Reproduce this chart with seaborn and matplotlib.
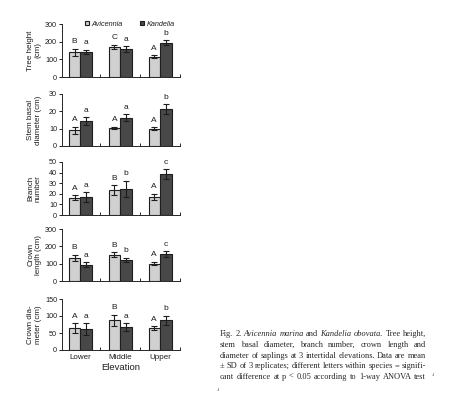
import matplotlib
matplotlib.use("Agg")
import matplotlib.pyplot as plt
import seaborn as sns
import pandas as pd
import numpy as np

# ---------------- data ----------------
elevations = ["Lower", "Middle", "Upper"]
species = ["Avicennia", "Kandelia"]

tree_height_avi = [139, 171, 116]
tree_height_avi_sd = [22, 12, 7]
tree_height_kan = [142, 158, 195]
tree_height_kan_sd = [12, 17, 13]
tree_height_letters_avi = ["B", "C", "A"]
tree_height_letters_kan = ["a", "a", "b"]

stem_avi = [9.0, 10.6, 10.0]
stem_avi_sd = [2.0, 0.6, 0.7]
stem_kan = [14.3, 16.2, 21.3]
stem_kan_sd = [2.3, 2.0, 2.8]
stem_letters_avi = ["A", "A", "A"]
stem_letters_kan = ["a", "a", "b"]

branch_avi = [16.5, 23.5, 17.0]
branch_avi_sd = [2.0, 4.5, 3.0]
branch_kan = [17.0, 24.5, 38.8]
branch_kan_sd = [4.5, 7.8, 4.5]
branch_letters_avi = ["A", "B", "A"]
branch_letters_kan = ["a", "b", "c"]

crown_len_avi = [134, 151, 100]
crown_len_avi_sd = [17, 15, 10]
crown_len_kan = [95, 121, 156]
crown_len_kan_sd = [14, 13, 15]
crown_len_letters_avi = ["B", "B", "A"]
crown_len_letters_kan = ["a", "b", "c"]

crown_dia_avi = [64, 87, 64]
crown_dia_avi_sd = [15, 17, 6]
crown_dia_kan = [61, 67, 88]
crown_dia_kan_sd = [18, 12, 13]
crown_dia_letters_avi = ["A", "B", "A"]
crown_dia_letters_kan = ["a", "a", "b"]

panel_labels = ["Tree height\n(cm)", "Stem basal\ndiameter (cm)", "Branch\nnumber",
                "Crown\nlength (cm)", "Crown dia-\nmeter (cm)"]
panel_yticks = [[0, 100, 200, 300], [0, 10, 20, 30], [0, 10, 20, 30, 40, 50],
                [0, 100, 200, 300], [0, 50, 100, 150]]

panels = [
    (tree_height_avi, tree_height_avi_sd, tree_height_kan, tree_height_kan_sd,
     tree_height_letters_avi, tree_height_letters_kan),
    (stem_avi, stem_avi_sd, stem_kan, stem_kan_sd, stem_letters_avi, stem_letters_kan),
    (branch_avi, branch_avi_sd, branch_kan, branch_kan_sd, branch_letters_avi, branch_letters_kan),
    (crown_len_avi, crown_len_avi_sd, crown_len_kan, crown_len_kan_sd,
     crown_len_letters_avi, crown_len_letters_kan),
    (crown_dia_avi, crown_dia_avi_sd, crown_dia_kan, crown_dia_kan_sd,
     crown_dia_letters_avi, crown_dia_letters_kan),
]

caption_lines = [
    [("Fig.", "normal"), ("2.", "normal"), ("Avicennia", "italic"), ("marina", "italic"),
     ("and", "normal"), ("Kandelia", "italic"), ("obovata.", "italic"), ("Tree", "normal"),
     ("height,", "normal")],
    [(w, "normal") for w in "stem basal diameter, branch number, crown length and".split()],
    [(w, "normal") for w in "diameter of saplings at 3 intertidal elevations. Data are mean".split()],
    [(w, "normal") for w in "± SD of 3 replicates; different letters within species = signifi-".split()],
    [(w, "normal") for w in "cant difference at p < 0.05 according to 1-way ANOVA test".split()],
]

# ---------------- style ----------------
sns.set_theme(style="ticks")
plt.rcParams["font.family"] = ["Liberation Sans Narrow", "Liberation Sans", "DejaVu Sans"]
plt.rcParams["axes.linewidth"] = 0.7

colors = {"Avicennia": "#d0d0d0", "Kandelia": "#484848"}
ink = "#1e1e1e"

W, H = 460, 395
fig = plt.figure(figsize=(W / 100, H / 100), dpi=100)

# axes boxes in pixels (top, bottom)
boxes = [(24, 77), (94, 146), (162, 215), (229, 281), (299, 350)]
left_px, right_px = 62, 180

for i, (box, data, ylab, yt) in enumerate(zip(boxes, panels, panel_labels, panel_yticks)):
    top, bot = box
    ax = fig.add_axes([left_px / W, 1 - bot / H, (right_px - left_px) / W, (bot - top) / H])
    avi, avi_sd, kan, kan_sd, lab_a, lab_k = data
    df = pd.DataFrame({
        "Elevation": elevations * 2,
        "Species": [species[0]] * 3 + [species[1]] * 3,
        "value": list(avi) + list(kan),
        "sd": list(avi_sd) + list(kan_sd),
        "letter": list(lab_a) + list(lab_k),
    })
    sns.barplot(data=df, x="Elevation", y="value", hue="Species", order=elevations,
                hue_order=species, palette=colors, width=0.58, errorbar=None,
                edgecolor=ink, linewidth=0.8, ax=ax, legend=(i == 0))
    bars = [p for p in ax.patches if p.get_height() > 0 or p.get_width() > 0][:6]
    for p, (_, row) in zip(bars, df.iterrows()):
        xc = p.get_x() + p.get_width() / 2
        ax.errorbar(xc, row["value"], yerr=row["sd"], color=ink, lw=0.8,
                    capsize=2.4, capthick=0.8)
        ax.annotate(row["letter"], (xc, row["value"] + row["sd"]), xytext=(0, 2.5),
                    textcoords="offset points", ha="center", va="bottom", fontsize=6.0,
                    color=ink)
    ax.set_xlim(-0.46, 2.5)
    ax.set_ylim(yt[0], yt[-1])
    ax.set_yticks(yt)
    ax.set_xticks([0, 1, 2])
    ax.set_xticks([0.5, 1.5, 2.5], minor=True)
    ax.tick_params(axis="y", labelsize=5.2, length=2, width=0.7, pad=1.5, colors=ink)
    ax.tick_params(axis="x", which="major", length=0, pad=3, labelsize=5.8, colors=ink)
    ax.tick_params(axis="x", which="minor", length=2, direction="in", width=0.7)
    sns.despine(ax=ax)
    ax.set_ylabel(ylab, fontsize=5.8, linespacing=1.15, color=ink)
    ax.yaxis.set_label_coords(-0.17, 0.5)
    if i < 4:
        ax.set_xticklabels([])
        ax.set_xlabel("")
    else:
        ax.set_xlabel("Elevation", fontsize=6.8, labelpad=1, color=ink)
    if i == 0:
        leg = ax.legend(loc="center", bbox_to_anchor=(0.575, 1.0), ncol=2, frameon=False,
                        fontsize=5.2, handlelength=0.6, handleheight=0.6,
                        handletextpad=0.35, columnspacing=2.4, borderaxespad=0)
        for t in leg.get_texts():
            t.set_fontstyle("italic")
            t.set_color(ink)

# ---------------- caption (justified) ----------------
renderer = fig.canvas.get_renderer()
cap_left, cap_right = 220, 426
baselines = [336, 346.8, 357.6, 368.4, 379.2]
cap_kw = dict(fontsize=6.05, family=["Liberation Serif", "DejaVu Serif"], color="#262626",
              va="baseline", ha="left")
for words, base in zip(caption_lines, baselines):
    texts = [fig.text(0, 1 - base / H, w, fontstyle=s, **cap_kw) for w, s in words]
    widths = [t.get_window_extent(renderer).width for t in texts]
    gap = (cap_right - cap_left - sum(widths)) / max(len(words) - 1, 1)
    x = cap_left
    for t, w in zip(texts, widths):
        t.set_x(x / W)
        x += w + gap

# small scan marks
fig.text(433 / W, 1 - 376 / H, ".ı", fontsize=4, color="#555555", ha="center", va="baseline")
fig.text(218 / W, 1 - 391 / H, ".ı", fontsize=4, color="#555555", ha="center", va="baseline")

fig.savefig("out.png", dpi=100)
